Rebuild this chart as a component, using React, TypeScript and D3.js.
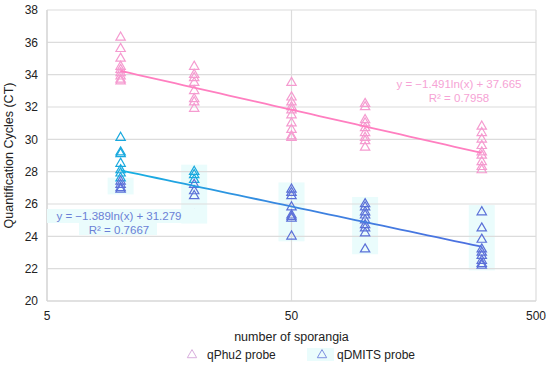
import React, { useMemo } from "react";
import * as d3 from "d3";

const WIDTH = 550;
const HEIGHT = 366;
const MARGIN = { top: 10, right: 14, bottom: 65, left: 47 };

const Y_TICKS = [20, 22, 24, 26, 28, 30, 32, 34, 36, 38];
const X_TICKS = [5, 50, 500];

// sporangia counts per column
const counts = [10, 20, 50, 100, 300];

// CT values read per column
const qPhu2 = [
  [36.3, 35.6, 35.0, 34.5, 34.3, 34.1, 33.9, 33.7, 33.6],
  [34.5, 34.0, 33.8, 33.5, 33.0, 32.5, 32.3, 31.9],
  [33.5, 32.6, 32.3, 32.0, 31.8, 31.5, 31.0, 30.6, 30.2, 30.1],
  [32.2, 32.0, 31.2, 31.0, 30.7, 30.4, 30.1, 29.9, 29.5],
  [30.8, 30.4, 30.0, 29.6, 29.2, 29.0, 28.6, 28.3, 28.1],
];

const qDMITS = [
  [30.1, 29.2, 29.1, 28.5, 28.1, 27.9, 27.6, 27.4, 27.2, 27.0, 26.9],
  [28.0, 27.8, 27.5, 27.2, 26.8, 26.5, 25.3, 25.1],
  [26.9, 26.7, 26.5, 25.8, 25.3, 25.2, 25.1, 24.0],
  [26.0, 25.8, 25.5, 25.3, 25.0, 24.7, 24.5, 24.2, 23.2],
  [25.5, 24.5, 23.8, 23.2, 23.0, 22.8, 22.5, 22.3, 22.2],
];

const trendPhu2 = { a: -1.491, b: 37.665, r2: "0.7958" };
const trendDMITS = { a: -1.389, b: 31.279, r2: "0.7667" };

const PINK = "#f59bd0";
const PINK_LINE = "#ff7fc0";
const CYAN = "#19a9de";
const BLUE = "#5b70d8";
const HILITE = "#eafcfc";
const FONT = "'Liberation Sans', Arial, sans-serif";

export default function App() {
  const boundsWidth = WIDTH - MARGIN.left - MARGIN.right;
  const boundsHeight = HEIGHT - MARGIN.top - MARGIN.bottom;

  const xScale = useMemo(
    () => d3.scaleLog().domain([5, 500]).range([0, boundsWidth]),
    [boundsWidth]
  );
  const yScale = useMemo(
    () => d3.scaleLinear().domain([20, 38]).range([boundsHeight, 0]),
    [boundsHeight]
  );

  const tri = d3.symbol(d3.symbolTriangle, 38)() || "";
  const trendX = d3.extent(counts) as [number, number];

  const trendLine = (t: { a: number; b: number }) =>
    d3
      .line<number>()
      .x((d) => xScale(d))
      .y((d) => yScale(t.a * Math.log(d) + t.b))(
      d3.range(0, 41).map((i) => trendX[0] * Math.pow(trendX[1] / trendX[0], i / 40))
    ) || "";

  const grid = Y_TICKS.map((v) => (
    <g key={v}>
      <line x1={0} x2={boundsWidth} y1={yScale(v)} y2={yScale(v)} stroke="#dcdcdc" strokeWidth={1.2} />
      <text x={-9} y={yScale(v)} dy="0.35em" textAnchor="end" fontSize={12} fill="#222">
        {v}
      </text>
    </g>
  ));

  const xTicks = X_TICKS.map((v) => (
    <g key={v}>
      <line x1={xScale(v)} x2={xScale(v)} y1={0} y2={boundsHeight} stroke="#dcdcdc" strokeWidth={1.2} />
      <text x={xScale(v)} y={boundsHeight + 19} textAnchor="middle" fontSize={12} fill="#222">
        {v}
      </text>
    </g>
  ));

  // faint highlight boxes behind the qDMITS columns
  const boxes = qDMITS.map((vals, i) => {
    const [lo, hi] = d3.extent(vals.slice(i === 0 ? 8 : 0)) as [number, number];
    return (
      <rect
        key={i}
        x={xScale(counts[i]) - 13}
        width={26}
        y={yScale(hi) - 7}
        height={yScale(lo) - yScale(hi) + 12}
        fill={HILITE}
      />
    );
  });

  const points = (series: number[][], color: (i: number, v: number) => string) =>
    series.flatMap((vals, i) =>
      vals.map((v, j) => (
        <path
          key={`${i}-${j}`}
          d={tri}
          transform={`translate(${xScale(counts[i])},${yScale(v)})`}
          fill="none"
          stroke={color(i, v)}
          strokeWidth={1.2}
        />
      ))
    );

  const fmt = (t: { a: number; b: number }) =>
    `y = \u2212${Math.abs(t.a).toFixed(3)}ln(x) + ${t.b.toFixed(3)}`;

  return (
    <svg
      width={WIDTH}
      height={HEIGHT}
      style={{ position: "absolute", left: 0, top: 0, background: "#fff" }}
      fontFamily={FONT}
    >
      <defs>
        <linearGradient id="blueTrend" gradientUnits="userSpaceOnUse" x1={xScale(10)} x2={xScale(300)} y1={0} y2={0}>
          <stop offset="0%" stopColor="#14b2e2" />
          <stop offset="45%" stopColor="#3a86e0" />
          <stop offset="100%" stopColor="#4d6fe0" />
        </linearGradient>
      </defs>
      <g transform={`translate(${MARGIN.left},${MARGIN.top})`}>
        {boxes}
        {grid}
        {xTicks}
        <line x1={0} x2={0} y1={0} y2={boundsHeight} stroke="#d6d6d6" strokeWidth={1.2} />
        <line x1={0} x2={boundsWidth} y1={boundsHeight} y2={boundsHeight} stroke="#d6d6d6" strokeWidth={1.2} />

        {points(qPhu2, () => PINK)}
        {points(qDMITS, (i, v) => (i <= 1 && v >= 27.5 ? CYAN : BLUE))}

        <path d={trendLine(trendPhu2)} fill="none" stroke={PINK_LINE} strokeWidth={1.8} />
        <path d={trendLine(trendDMITS)} fill="none" stroke="url(#blueTrend)" strokeWidth={1.8} />

        {/* equation labels */}
        <text x={412} y={78} textAnchor="middle" fontSize={11.5} fill="#f6a3d5">
          {fmt(trendPhu2)}
        </text>
        <text x={412} y={92} textAnchor="middle" fontSize={11.5} fill="#f6a3d5">
          R² = {trendPhu2.r2}
        </text>

        <rect x={0} y={199} width={160} height={14} fill={HILITE} />
        <rect x={32} y={213} width={78} height={12} fill={HILITE} />
        <text x={72} y={210} textAnchor="middle" fontSize={11.5} fill="#6a7fd6">
          {fmt(trendDMITS)}
        </text>
        <text x={72} y={224} textAnchor="middle" fontSize={11.5} fill="#6a7fd6">
          R² = {trendDMITS.r2}
        </text>

        <text x={boundsWidth / 2} y={boundsHeight + 40} textAnchor="middle" fontSize={12.5} fill="#222">
          number of sporangia
        </text>
        <text
          transform={`translate(${-34},${boundsHeight / 2}) rotate(-90)`}
          textAnchor="middle"
          fontSize={12.5}
          fill="#222"
        >
          Quantification Cycles (CT)
        </text>
      </g>

      {/* legend */}
      <g transform={`translate(0,${HEIGHT - 11})`} fontSize={12} fill="#222">
        <path d={tri} transform="translate(192,0)" fill="none" stroke="#d8aedd" strokeWidth={1} />
        <text x={207} y={0} dy="0.35em">qPhu2 probe</text>
        <rect x={307} y={-7} width={27} height={13} fill={HILITE} />
        <path d={tri} transform="translate(322,0)" fill="none" stroke="#7d8fe0" strokeWidth={1} />
        <text x={337} y={0} dy="0.35em">qDMITS probe</text>
      </g>
    </svg>
  );
}
